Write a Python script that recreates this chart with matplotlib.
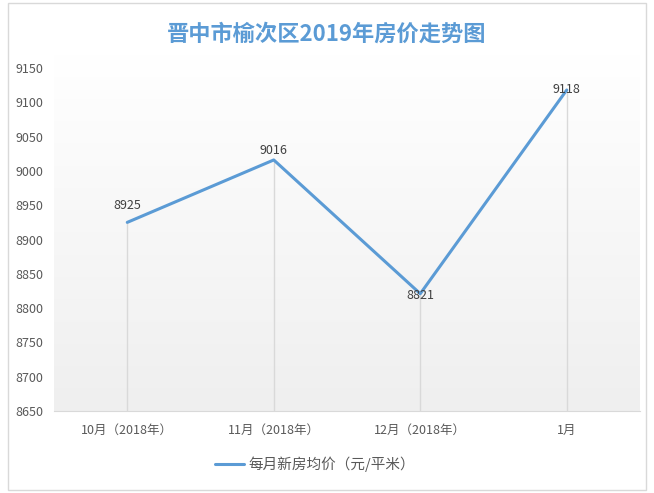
import numpy as np
import matplotlib
matplotlib.use("Agg")
import matplotlib.pyplot as plt
from matplotlib.patches import Rectangle

plt.rcParams['font.family'] = ['Noto Sans CJK SC', 'DejaVu Sans']

# === DATA ===
categories = ["10月（2018年）", "11月（2018年）", "12月（2018年）", "1月"]
prices = [8925, 9016, 8821, 9118]
series_name = "每月新房均价（元/平米）"
title = "晋中市榆次区2019年房价走势图"
yticks = [8650, 8700, 8750, 8800, 8850, 8900, 8950, 9000, 9050, 9100, 9150]

label_offsets = [12, 7, -1, 0]   # points above each marker

fig = plt.figure(figsize=(6.54, 4.93), dpi=100)
ax = fig.add_axes([0.0826, 0.1663, 0.896, 0.6957])

x = np.arange(len(categories))

# gradient plot area (extends a little above the top tick, like the original)
grad = np.linspace(1.0, 0.0, 256).reshape(-1, 1)
ax.imshow(grad, extent=[-0.5, 3.5, 8650, 9170], aspect="auto",
          cmap=matplotlib.colors.LinearSegmentedColormap.from_list(
              "bg", ["#efefef", "#ffffff"]), zorder=0, clip_on=False)

# drop lines
ax.vlines(x, 8650, prices, color="#d9d9d9", lw=1, zorder=1)
ax.plot(x, prices, color="#5b9bd5", lw=2.2, label=series_name, zorder=3,
        solid_capstyle="round", solid_joinstyle="round")

for xi, v, off in zip(x, prices, label_offsets):
    ax.annotate(str(v), (xi, v), xytext=(0, off), textcoords="offset points",
                ha="center", va="center", fontsize=9, color="#404040", zorder=4)

ax.set_xlim(-0.5, 3.5)
ax.set_ylim(8650, 9150)
ax.set_yticks(yticks)
ax.set_xticks(x)
ax.set_xticklabels(categories)
for s in ["top", "right", "left"]:
    ax.spines[s].set_visible(False)
ax.spines["bottom"].set_color("#d9d9d9")
ax.tick_params(axis="both", length=0, colors="#595959", labelsize=9)
ax.tick_params(axis="x", pad=9)
ax.tick_params(axis="y", pad=8)

fig.text(0.5, 0.93, title, ha="center", va="center", fontsize=16,
         fontweight="bold", color="#5b9bd5")

leg = fig.legend(loc="center", bbox_to_anchor=(0.482, 0.059), frameon=False,
                 fontsize=10.5, handlelength=2.0, handletextpad=0.3)
for t in leg.get_texts():
    t.set_color("#595959")

fig.patches.append(Rectangle((0.012, 0.006), 0.976, 0.988, transform=fig.transFigure,
                             fill=False, edgecolor="#d9d9d9", lw=1))

fig.savefig("out.png", dpi=100)
